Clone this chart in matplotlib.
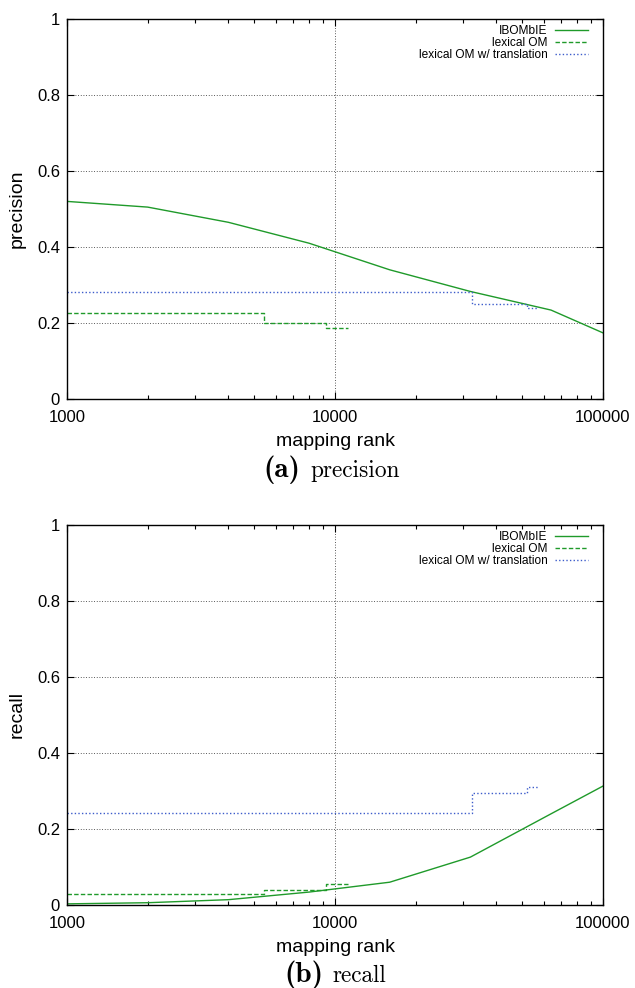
import matplotlib
matplotlib.use("Agg")
import matplotlib.pyplot as plt
from matplotlib.ticker import FixedLocator, LogLocator, NullFormatter

plt.rcParams['font.family'] = ['Liberation Sans', 'DejaVu Sans']

# mapping ranks where IBOMbIE was evaluated
ranks = [1000, 2000, 4000, 8000, 16000, 32000, 64000, 100000]
ibombie_prec = [0.52, 0.505, 0.465, 0.41, 0.34, 0.283, 0.234, 0.174]
ibombie_rec = [0.003, 0.006, 0.014, 0.034, 0.06, 0.126, 0.24, 0.313]

# lexical OM (step curves)
lex_ranks = [1000, 5430, 9250, 11200]
lex_prec = [0.225, 0.2, 0.187, 0.187]
lex_rec = [0.029, 0.039, 0.055, 0.055]

# lexical OM with translation
trans_ranks = [1000, 32400, 52000, 57200]
trans_prec = [0.282, 0.25, 0.24, 0.24]
trans_rec = [0.242, 0.295, 0.31, 0.31]

yticks = [0, 0.2, 0.4, 0.6, 0.8, 1]
xticks = [1000, 10000, 100000]

GREEN = '#1f9a2a'
BLUE = '#3d5ccb'

W, H = 635, 988
fig = plt.figure(figsize=(W / 100, H / 100), dpi=100)

# (values, ..., caption name, tag, axis bottom px, tag right px, name left px, baseline px)
panels = [
    (ibombie_prec, lex_prec, trans_prec, 'precision', '(a)', 399, 300, 310, 477),
    (ibombie_rec, lex_rec, trans_rec, 'recall', '(b)', 905, 323, 332, 982),
]

for ib, lex, tr, name, tag, ybot, xtag, xname, ybase in panels:
    ax = fig.add_axes([67 / W, (H - ybot) / H, 536 / W, 380 / H])
    ax.plot(ranks, ib, '-', color=GREEN, lw=1.0, label='IBOMbIE')
    ax.plot(lex_ranks, lex, color=GREEN, lw=1.0, dashes=(3.2, 1.6),
            drawstyle='steps-post', label='lexical OM')
    ax.plot(trans_ranks, tr, color=BLUE, lw=1.0, dashes=(1.0, 1.6),
            drawstyle='steps-post', label='lexical OM w/ translation')

    ax.set_xscale('log')
    ax.set_xlim(1000, 100000)
    ax.set_ylim(0, 1)
    ax.xaxis.set_major_locator(FixedLocator(xticks))
    ax.xaxis.set_minor_locator(LogLocator(base=10, subs=range(2, 10)))
    ax.xaxis.set_minor_formatter(NullFormatter())
    ax.set_xticklabels([str(t) for t in xticks])
    ax.set_yticks(yticks)
    ax.set_yticklabels(['%g' % t for t in yticks])
    ax.tick_params(which='both', direction='in', top=True, right=True,
                   labelsize=12, width=0.8, color='black')
    ax.tick_params(which='major', length=5)
    ax.tick_params(axis='x', which='major', pad=8)
    ax.tick_params(axis='y', which='major', pad=5)
    ax.tick_params(which='minor', length=3)
    for sp in ax.spines.values():
        sp.set_linewidth(1.0)
    ax.grid(True, which='major', color='#222222', lw=0.6, dashes=(1, 2.2))

    ax.set_xlabel('mapping rank', fontsize=14)
    ax.xaxis.set_label_coords(0.5, -34 / 380)
    ax.set_ylabel(name, fontsize=14)
    ax.yaxis.set_label_coords(-41 / 536, 0.5)

    ax.legend(loc='upper right', bbox_to_anchor=(0.972, 0.985), frameon=False,
              markerfirst=False, fontsize=8.6, handlelength=2.8,
              handletextpad=0.6, labelspacing=0.0, borderpad=0,
              borderaxespad=0)

    # sub-figure caption: bold tag + roman name
    fig.text(xtag / W, 1 - ybase / H, tag, fontsize=21, family='cmb10',
             ha='right', va='baseline')
    fig.text(xname / W, 1 - ybase / H, name, fontsize=16.8, family='cmr10',
             ha='left', va='baseline')

fig.savefig('out.png', dpi=100)
